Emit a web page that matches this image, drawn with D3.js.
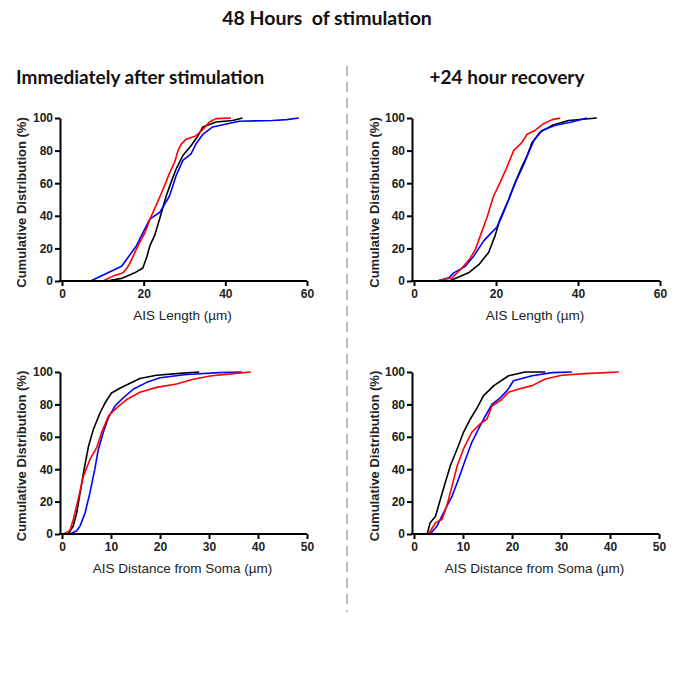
<!DOCTYPE html>
<html>
<head>
<meta charset="utf-8">
<script src="https://cdn.jsdelivr.net/npm/d3@7"></script>
<style>
  body { margin: 0; background: #fff; }
  svg { display: block; }
</style>
</head>
<body>
<svg id="chart" width="678" height="687"></svg>
<script>
// cumulative distributions, [value, percent]
var lenImmBlack = [[10.9,0],[14.6,1.6],[17.8,5],[19.8,8],[20.8,15],[21.5,21.5],[22.7,28],[23.9,38],[25.5,52],[26.7,60.5],[28,69],[29.6,77],[31.6,83],[33.3,89],[34.5,94.5],[37.7,97.5],[41.8,98.5],[44.2,100]];
var lenImmBlue = [[7,0],[14.6,9],[18.2,21.5],[21.5,38],[23.9,42],[26.3,52],[28,65],[29.6,74],[31.6,78],[32.8,84],[34.5,90],[36.9,94.5],[43.4,98],[51.5,98.5],[55,99],[58,100]];
var lenImmRed = [[10,0],[12.5,3],[15,5],[16.2,9],[17,13],[18.6,21.5],[20.2,29],[21.9,40],[23.5,49],[24.7,56],[26.3,66],[27.6,73],[28.4,80],[29.2,84],[30.4,87],[32.8,89],[34.5,93],[36.1,97.5],[37.7,99.6],[41.4,100]];

var lenRecBlack = [[8.5,0],[10.5,2],[13.3,5],[15.8,10],[18.2,17.5],[19.8,28],[21,38],[23.1,50],[24.7,60.5],[26.3,70],[27.6,77],[28.8,85],[30.8,91.4],[33.7,95.5],[37.7,98.5],[44.6,100]];
var lenRecBlue = [[5.6,0],[8.5,2],[9.7,5],[12.5,9],[14.6,15.4],[17,24.6],[19,30],[20.2,33],[21.5,40],[23.1,50],[24.7,60.5],[26.7,71],[28,79],[29.2,86],[31.2,92.4],[34.5,95.5],[38.5,97.5],[42.2,100]];
var lenRecRed = [[5.6,0],[9.3,2],[11.7,8],[13.7,14],[15,19.5],[16.2,28],[17.8,39],[19.4,52],[21,60.5],[22.7,70],[24.3,80],[26.3,85],[27.6,90],[29.6,92.5],[31.6,96.5],[33.7,99],[35.7,100]];

var distImmBlack = [[1.3,0],[2.3,5],[3,13],[3.7,25.5],[4.4,38],[5.4,54],[6.4,64.6],[7.8,75],[8.8,81],[10.1,87],[11.8,90],[13.9,93],[15.9,96],[19.3,98],[23.4,99],[28,100]];
var distImmBlue = [[1.6,0],[3,2],[3.7,5],[4.7,13],[5.7,25.5],[6.7,40],[7.4,52],[8.4,62.5],[9.5,72],[10.8,79],[12.5,84],[14.6,89.5],[17.3,93.6],[20,96.5],[25.4,98.5],[32.2,99.6],[36.7,100]];
var distImmRed = [[0.3,0],[1.6,2],[2.3,9],[3.3,21.4],[4.4,36],[5.7,46],[7.1,53.5],[8.1,62.8],[9.5,73],[11.2,78],[13.2,83],[15.9,87.5],[19.3,90.5],[23.4,92.6],[26.8,95.5],[30.2,97.5],[35,99],[38.5,100]];

var distRecBlack = [[2.7,0],[3.3,7],[4.4,11],[5.4,21.6],[6.4,32],[7.4,42],[8.8,52.5],[10.1,62.8],[11.5,71],[12.9,78],[14.2,85.4],[16.3,91.6],[19.3,97.7],[22.7,100],[26.8,100]];
var distRecBlue = [[3.3,0],[4.7,5],[6.4,15.4],[7.8,23.6],[9.1,34],[10.5,46],[11.8,56.6],[13.2,65],[14.6,73],[15.9,80],[17.6,84],[19,88.5],[20.3,94.6],[24.1,97.7],[28.2,99.6],[32.2,100]];
var distRecRed = [[3,0],[4.4,7],[5.7,9],[6.7,17.5],[7.8,30],[8.8,42],[10.1,52.5],[11.8,62.8],[13.5,68],[14.9,71],[15.9,79],[17.9,83],[19.3,87.5],[21.4,89.5],[24.1,91.6],[26.8,95.7],[30.2,98],[35,99],[41.8,100]];

var lenTicks = [0, 20, 40, 60];
var distTicks = [0, 10, 20, 30, 40, 50];
var pctTicks = [0, 20, 40, 60, 80, 100];

var svg = d3.select("#chart");

svg.append("text")
    .attr("x", 327).attr("y", 25)
    .attr("text-anchor", "middle")
    .style("font-family", "Lato, 'Open Sans', sans-serif")
    .style("font-weight", "bold")
    .style("font-size", "19.5px")
    .attr("fill", "#111")
    .attr("xml:space", "preserve")
    .text("48 Hours  of stimulation");

svg.append("text")
    .attr("x", 16).attr("y", 84)
    .style("font-family", "Lato, 'Open Sans', sans-serif")
    .style("font-weight", "bold")
    .style("font-size", "19px")
    .attr("fill", "#111")
    .text("Immediately after stimulation");

svg.append("text")
    .attr("x", 507).attr("y", 84)
    .attr("text-anchor", "middle")
    .style("font-family", "Lato, 'Open Sans', sans-serif")
    .style("font-weight", "bold")
    .style("font-size", "19px")
    .attr("fill", "#111")
    .text("+24 hour recovery");

svg.append("line")
    .attr("x1", 347).attr("x2", 347)
    .attr("y1", 66).attr("y2", 612)
    .attr("stroke", "#bdbdbd")
    .attr("stroke-width", 2)
    .attr("stroke-dasharray", "10,6");

var panels = [
  {left: 62, right: 307, top: 118, bottom: 281, max: 60, ticks: lenTicks, ylx: 22, xlabel: "AIS Length (\u00b5m)", series: [lenImmBlack, lenImmBlue, lenImmRed]},
  {left: 414, right: 660, top: 118, bottom: 281, max: 60, ticks: lenTicks, ylx: 375, xlabel: "AIS Length (\u00b5m)", series: [lenRecBlack, lenRecBlue, lenRecRed]},
  {left: 62, right: 307, top: 372, bottom: 534, max: 50, ticks: distTicks, ylx: 22, xlabel: "AIS Distance from Soma (\u00b5m)", series: [distImmBlack, distImmBlue, distImmRed]},
  {left: 414, right: 659, top: 372, bottom: 534, max: 50, ticks: distTicks, ylx: 375, xlabel: "AIS Distance from Soma (\u00b5m)", series: [distRecBlack, distRecBlue, distRecRed]}
];
var colors = ["#000000", "#0000ff", "#ff0000"];

panels.forEach(function(p){
    var x = d3.scaleLinear().domain([0, p.max]).range([p.left, p.right]);
    var y = d3.scaleLinear().domain([0, 100]).range([p.bottom, p.top]);

    var line = d3.line().x(d => x(d[0])).y(d => y(d[1]));
    p.series.forEach(function(s, i){
        svg.append("path").datum(s)
            .attr("d", line)
            .attr("fill", "none")
            .attr("stroke", colors[i])
            .attr("stroke-width", 1.6)
            .attr("stroke-linejoin", "round");
    });

    var xg = svg.append("g")
        .attr("transform", "translate(0," + p.bottom + ")")
        .call(d3.axisBottom(x).tickValues(p.ticks).tickSize(5).tickPadding(3).tickSizeOuter(0));
    var yg = svg.append("g")
        .attr("transform", "translate(" + (p.left - 2) + ",0)")
        .call(d3.axisLeft(y).tickValues(pctTicks).tickSize(5).tickPadding(2).tickSizeOuter(0));

    [xg, yg].forEach(function(g){
        g.select(".domain").attr("stroke", "#000").attr("stroke-width", 2);
        g.selectAll(".tick line").attr("stroke", "#000").attr("stroke-width", 2);
        g.selectAll(".tick text")
            .attr("fill", "#222")
            .style("font-family", "'Liberation Sans', Arial, sans-serif")
            .style("font-weight", "bold")
            .style("font-size", "12px");
    });
    xg.select(".domain").attr("d", "M" + (p.left - 3) + ",0H" + p.right);

    svg.append("text")
        .attr("x", (p.left + p.right) / 2 - 2)
        .attr("y", p.bottom + 39)
        .attr("text-anchor", "middle")
        .style("font-family", "'Liberation Sans', Arial, sans-serif")
        .style("font-size", "13.5px")
        .attr("fill", "#222")
        .text(p.xlabel);

    svg.append("text")
        .attr("transform", "translate(" + (p.ylx + 4) + "," + ((p.top + p.bottom) / 2 + 3) + ") rotate(-90)")
        .attr("text-anchor", "middle")
        .style("font-family", "'Liberation Sans', Arial, sans-serif")
        .style("font-weight", "bold")
        .style("font-size", "13px")
        .attr("fill", "#222")
        .text("Cumulative Distribution (%)");
});
</script>
</body>
</html>
